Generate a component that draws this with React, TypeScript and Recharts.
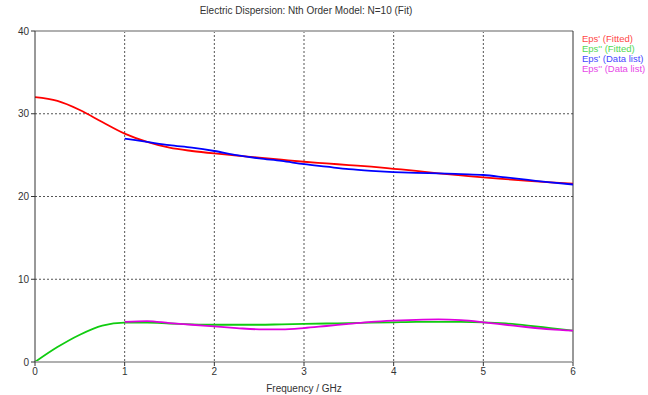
import React from "react";
import { LineChart, Line, XAxis, YAxis, CartesianGrid, ReferenceLine } from "recharts";

const freq = [0, 0.25, 0.5, 0.75, 1, 1.25, 1.5, 1.75, 2, 2.25, 2.5, 2.75, 3, 3.25, 3.5, 3.75, 4, 4.25, 4.5, 4.75, 5, 5.25, 5.5, 5.75, 6];
const epsFitted = [32, 31.55, 30.45, 29.0, 27.6, 26.6, 25.9, 25.5, 25.2, 24.95, 24.7, 24.45, 24.2, 24.0, 23.8, 23.6, 23.35, 23.1, 22.8, 22.55, 22.3, 22.1, 21.9, 21.7, 21.55];
const eps2Fitted = [0, 1.8, 3.3, 4.4, 4.75, 4.75, 4.65, 4.55, 4.5, 4.5, 4.5, 4.55, 4.6, 4.65, 4.7, 4.75, 4.8, 4.85, 4.85, 4.85, 4.8, 4.65, 4.4, 4.1, 3.8];
const epsData = [null, null, null, null, 27.0, 26.6, 26.2, 25.9, 25.5, 25.0, 24.6, 24.3, 23.9, 23.6, 23.3, 23.1, 22.95, 22.85, 22.8, 22.7, 22.6, 22.3, 22.0, 21.7, 21.45];
const eps2Data = [null, null, null, null, 4.85, 4.95, 4.7, 4.5, 4.3, 4.1, 3.95, 3.95, 4.1, 4.35, 4.6, 4.85, 5.0, 5.1, 5.15, 5.05, 4.8, 4.5, 4.2, 3.95, 3.8];
const xTicks = [0, 1, 2, 3, 4, 5, 6];
const yTicks = [0, 10, 20, 30, 40];

const series = [
  { key: "epsFit", name: "Eps' (Fitted)", color: "#ff0000" },
  { key: "eps2Fit", name: "Eps'' (Fitted)", color: "#10cc10" },
  { key: "epsData", name: "Eps' (Data list)", color: "#0000ff" },
  { key: "eps2Data", name: "Eps'' (Data list)", color: "#e000e0" },
];

const data = freq.map((f, i) => ({
  f,
  epsFit: epsFitted[i],
  eps2Fit: eps2Fitted[i],
  epsData: epsData[i],
  eps2Data: eps2Data[i],
}));

const font = "'Liberation Sans', Arial, sans-serif";

export default function App() {
  return (
    <div style={{ position: "fixed", left: 0, top: 0, width: 648, height: 395, background: "#fff", overflow: "hidden" }}>
      <div
        style={{
          position: "absolute",
          top: 5,
          left: 0,
          width: 612,
          textAlign: "center",
          fontFamily: font,
          fontSize: 10,
          color: "#333",
        }}
      >
        Electric Dispersion: Nth Order Model: N=10 (Fit)
      </div>
      <div
        style={{
          position: "absolute",
          left: 582,
          top: 34,
          fontFamily: font,
          fontSize: 9.5,
          lineHeight: "10px",
        }}
      >
        {series.map((s) => (
          <div key={s.key} style={{ color: s.color, opacity: 0.75, whiteSpace: "nowrap" }}>
            {s.name}
          </div>
        ))}
      </div>
      <LineChart width={648} height={395} data={data} margin={{ top: 31, right: 75, bottom: 0, left: 0 }}>
        <CartesianGrid stroke="#555" strokeDasharray="2 2" horizontalValues={[10, 20, 30]} verticalValues={[1, 2, 3, 4, 5]} />
        <XAxis
          dataKey="f"
          type="number"
          domain={[0, 6]}
          ticks={xTicks}
          height={33}
          axisLine={{ stroke: "#b0b0b0", strokeWidth: 2 }}
          tickLine={{ stroke: "#333" }}
          tickSize={4}
          tick={{ fill: "#333", fontSize: 10, fontFamily: font }}
          label={{ value: "Frequency / GHz", position: "insideBottom", offset: 3, fill: "#333", fontSize: 10, fontFamily: font }}
        />
        <YAxis
          type="number"
          domain={[0, 40]}
          ticks={yTicks}
          width={35}
          axisLine={{ stroke: "#333" }}
          tickLine={{ stroke: "#333" }}
          tickSize={4}
          tick={{ fill: "#333", fontSize: 10, fontFamily: font }}
        />
        <ReferenceLine y={40} stroke="#b0b0b0" strokeWidth={2} />
        <ReferenceLine x={6} stroke="#333" />
        {series.map((s) => (
          <Line
            key={s.key}
            type="monotone"
            dataKey={s.key}
            name={s.name}
            stroke={s.color}
            strokeWidth={1.8}
            dot={false}
            connectNulls={false}
            isAnimationActive={false}
          />
        ))}
      </LineChart>
    </div>
  );
}
